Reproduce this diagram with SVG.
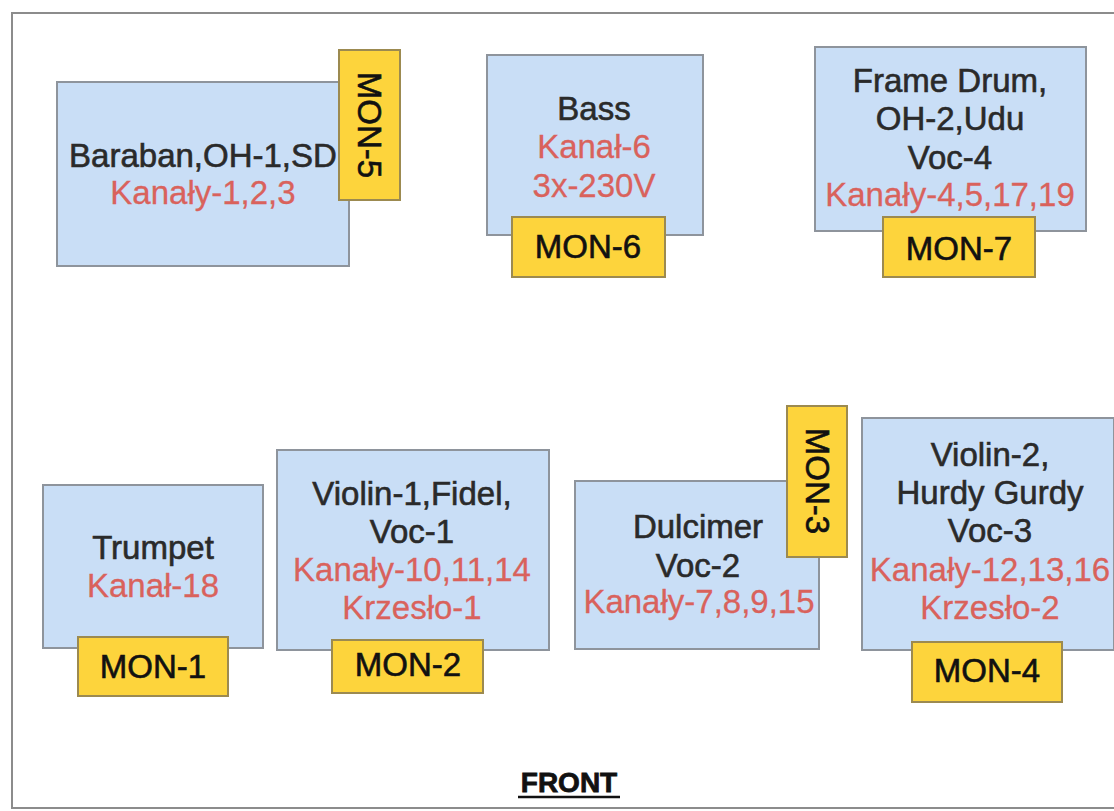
<svg xmlns="http://www.w3.org/2000/svg" width="1114" height="811" viewBox="0 0 1114 811">
<style>
.bg{fill:#ffffff}
.frame{fill:none;stroke:#8c8c8c;stroke-width:2}
.box{fill:#c9def6;stroke:#8e949c;stroke-width:2}
.mon{fill:#fdd43c;stroke:#9c8a50;stroke-width:2}
text{font-family:"Liberation Sans",Arial,sans-serif;font-size:33px;text-anchor:middle;stroke-width:0.6}
.k{fill:#2a2a2a;stroke:#2a2a2a}
.r{fill:#d9625c;stroke:#d9625c;stroke-width:0.3}
.m{fill:#111111;stroke:#111111}
.front{font-size:28px;font-weight:bold;fill:#111111;stroke:#111111;stroke-width:0.8}
</style>
<rect class="bg" x="0" y="0" width="1114" height="811"/>
<path class="frame" d="M1114 13 H12 V808 H1114"/>

<g id="node-baraban">
<rect class="box" x="57" y="82" width="292" height="184"/>
<text class="k" x="203" y="167">Baraban,OH-1,SD</text>
<text class="r" x="203" y="204">Kanały-1,2,3</text>
</g>
<g id="node-mon5">
<rect class="mon" x="339" y="50" width="61" height="150"/>
<text class="m" transform="translate(358,125) rotate(90)">MON-5</text>
</g>

<g id="node-bass">
<rect class="box" x="487" y="55" width="216" height="180"/>
<text class="k" x="594" y="120">Bass</text>
<text class="r" x="594" y="158">Kanał-6</text>
<text class="r" x="594" y="197">3x-230V</text>
</g>
<g id="node-mon6">
<rect class="mon" x="512" y="217" width="153" height="60"/>
<text class="m" x="588" y="258">MON-6</text>
</g>

<g id="node-framedrum">
<rect class="box" x="815" y="47" width="271" height="184"/>
<text class="k" x="950" y="92">Frame Drum,</text>
<text class="k" x="950" y="130">OH-2,Udu</text>
<text class="k" x="950" y="169">Voc-4</text>
<text class="r" x="950" y="206">Kanały-4,5,17,19</text>
</g>
<g id="node-mon7">
<rect class="mon" x="883" y="217" width="152" height="60"/>
<text class="m" x="959" y="260">MON-7</text>
</g>

<g id="node-trumpet">
<rect class="box" x="43" y="485" width="220" height="163"/>
<text class="k" x="153" y="559">Trumpet</text>
<text class="r" x="153" y="597">Kanał-18</text>
</g>
<g id="node-mon1">
<rect class="mon" x="78" y="637" width="150" height="59"/>
<text class="m" x="153" y="678">MON-1</text>
</g>

<g id="node-violin1">
<rect class="box" x="277" y="450" width="272" height="200"/>
<text class="k" x="412" y="505">Violin-1,Fidel,</text>
<text class="k" x="412" y="543">Voc-1</text>
<text class="r" x="412" y="581">Kanały-10,11,14</text>
<text class="r" x="412" y="619">Krzesło-1</text>
</g>
<g id="node-mon2">
<rect class="mon" x="332" y="640" width="151" height="53"/>
<text class="m" x="408" y="676">MON-2</text>
</g>

<g id="node-dulcimer">
<rect class="box" x="575" y="481" width="244" height="168"/>
<text class="k" x="698" y="538">Dulcimer</text>
<text class="k" x="698" y="577">Voc-2</text>
<text class="r" x="699" y="613">Kanały-7,8,9,15</text>
</g>
<g id="node-mon3">
<rect class="mon" x="787" y="406" width="60" height="151"/>
<text class="m" transform="translate(806,481) rotate(90)">MON-3</text>
</g>

<g id="node-violin2">
<rect class="box" x="862" y="418" width="252" height="232"/>
<text class="k" x="990" y="466">Violin-2,</text>
<text class="k" x="990" y="504">Hurdy Gurdy</text>
<text class="k" x="990" y="542">Voc-3</text>
<text class="r" x="990" y="581">Kanały-12,13,16</text>
<text class="r" x="990" y="619">Krzesło-2</text>
</g>
<g id="node-mon4">
<rect class="mon" x="912" y="642" width="150" height="60"/>
<text class="m" x="987" y="682">MON-4</text>
</g>

<g id="connectors"></g>

<g id="label-front">
<text class="front" x="569" y="792">FRONT</text>
<line x1="518" y1="797" x2="620" y2="797" stroke="#111111" stroke-width="2.5"/>
</g>
</svg>
